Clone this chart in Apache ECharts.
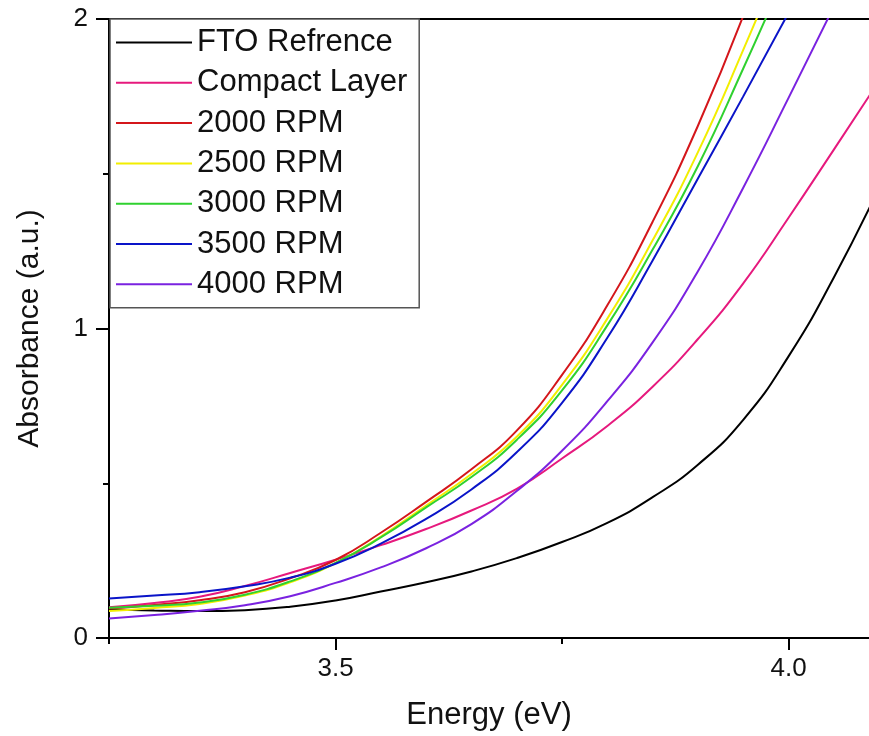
<!DOCTYPE html>
<html><head><meta charset="utf-8">
<script src="https://cdn.jsdelivr.net/npm/echarts@6/dist/echarts.min.js"></script>
<style>html,body{margin:0;padding:0;background:#fff}#c{width:869px;height:736px}</style>
</head><body><div id="c"></div>
<script>
// ---- data ----
const energy = [3.25,3.30,3.35,3.40,3.45,3.50,3.55,3.60,3.65,3.70,3.75,3.80,3.85,3.90,3.95,4.00,4.05,4.10];
const seriesNames = ['FTO Refrence','Compact Layer','2000 RPM','2500 RPM','3000 RPM','3500 RPM','4000 RPM'];
const ftoRef   = [0.092,0.089,0.087,0.090,0.101,0.121,0.150,0.180,0.215,0.258,0.310,0.372,0.455,0.560,0.705,0.910,1.165,1.455];
const compact  = [0.099,0.113,0.133,0.168,0.210,0.253,0.300,0.352,0.412,0.482,0.580,0.685,0.812,0.966,1.146,1.358,1.578,1.800];
const rpm2000  = [0.095,0.107,0.122,0.148,0.193,0.252,0.340,0.440,0.545,0.670,0.850,1.075,1.345,1.655,2.010];
const rpm2500  = [0.087,0.097,0.110,0.137,0.180,0.242,0.328,0.428,0.530,0.650,0.818,1.032,1.285,1.570,1.900,2.250];
const rpm3000  = [0.098,0.104,0.115,0.140,0.183,0.243,0.325,0.422,0.520,0.640,0.800,1.010,1.255,1.525,1.840,2.170];
const rpm3500  = [0.128,0.137,0.148,0.167,0.195,0.240,0.305,0.385,0.480,0.600,0.760,0.970,1.220,1.485,1.750,2.020];
const rpm4000  = [0.063,0.074,0.088,0.106,0.135,0.178,0.228,0.290,0.368,0.475,0.605,0.765,0.955,1.185,1.455,1.745,2.040];
const seriesValues = [ftoRef, compact, rpm2000, rpm2500, rpm3000, rpm3500, rpm4000];
const xMajorTicks = [3.5, 4.0];
const xMinorTicks = [3.25, 3.75];
const yMajorTicks = [0, 1, 2];
const yMinorTicks = [0.5, 1.5];
const xRange = [3.25, 4.0888];
const yRange = [0, 2];

// ---- styles ----
const colors = ['#000000','#e6197d','#d4161b','#f2ee00','#2fd12f','#0a14c8','#7a22e0'];
const FONT = "'Liberation Sans', Arial, sans-serif";
const gridRect = {left:109, top:19, right:0, bottom:98};

const series = seriesValues.map((vals, k) => ({
  name: seriesNames[k],
  type: 'line',
  xAxisIndex: 0, yAxisIndex: 0,
  data: vals.map((v, i) => [energy[i], v]),
  showSymbol: false, symbol: 'none',
  smooth: 0.5,
  clip: true,
  lineStyle: {width: 2, color: colors[k]},
  itemStyle: {color: colors[k]},
  z: 2 + k
}));

const chart = echarts.init(document.getElementById('c'), null, {renderer:'canvas'});
chart.setOption({
  animation: false,
  backgroundColor: '#ffffff',
  grid: [Object.assign({}, gridRect), Object.assign({}, gridRect)],
  legend: {
    orient: 'vertical', left: 110, top: 19,
    padding: [8, 12, 8, 6],
    itemWidth: 76, itemHeight: 2, itemGap: 9.3, icon: 'rect',
    borderColor: '#555', borderWidth: 1.5, backgroundColor: '#fff',
    textStyle: {fontFamily: FONT, fontSize: 31, color: '#111', lineHeight: 30},
    data: seriesNames,
    z: 20
  },
  xAxis: [
    { type:'value', gridIndex:0, position:'bottom', min:xRange[0], max:xRange[1],
      name:'Energy (eV)', nameLocation:'middle', nameGap:62,
      nameTextStyle:{fontFamily:FONT, fontSize:31, color:'#111'},
      axisLine:{show:true, onZero:false, lineStyle:{color:'#000', width:2}},
      axisTick:{show:true, length:12, inside:false, customValues:xMajorTicks, lineStyle:{color:'#000', width:2}},
      axisLabel:{show:true, margin:18, customValues:xMajorTicks, fontFamily:FONT, fontSize:26, color:'#111',
                 formatter:v=>Number(v).toFixed(1)},
      splitLine:{show:false}
    },
    { type:'value', gridIndex:0, position:'top', min:xRange[0], max:xRange[1],
      axisLine:{show:true, onZero:false, lineStyle:{color:'#000', width:2}},
      axisTick:{show:false}, axisLabel:{show:false}, splitLine:{show:false}
    },
    { type:'value', gridIndex:1, position:'bottom', min:xRange[0], max:xRange[1],
      axisLine:{show:false, onZero:false},
      axisTick:{show:true, length:6, customValues:xMinorTicks, lineStyle:{color:'#000', width:2}},
      axisLabel:{show:false}, splitLine:{show:false}
    }
  ],
  yAxis: [
    { type:'value', gridIndex:0, position:'left', min:yRange[0], max:yRange[1],
      name:'Absorbance (a.u.)', nameLocation:'middle', nameGap:64,
      nameTextStyle:{fontFamily:FONT, fontSize:30, color:'#111'},
      axisLine:{show:true, onZero:false, lineStyle:{color:'#000', width:2}},
      axisTick:{show:true, length:13, customValues:yMajorTicks, lineStyle:{color:'#000', width:2}},
      axisLabel:{show:true, margin:21, customValues:yMajorTicks, fontFamily:FONT, fontSize:26, color:'#111',
                 formatter:v=>String(Math.round(v))},
      splitLine:{show:false}
    },
    { type:'value', gridIndex:1, position:'left', min:yRange[0], max:yRange[1],
      axisLine:{show:false, onZero:false},
      axisTick:{show:true, length:6, customValues:yMinorTicks, lineStyle:{color:'#000', width:2}},
      axisLabel:{show:false}, splitLine:{show:false}
    }
  ],
  series: series
});
</script>
</body></html>
